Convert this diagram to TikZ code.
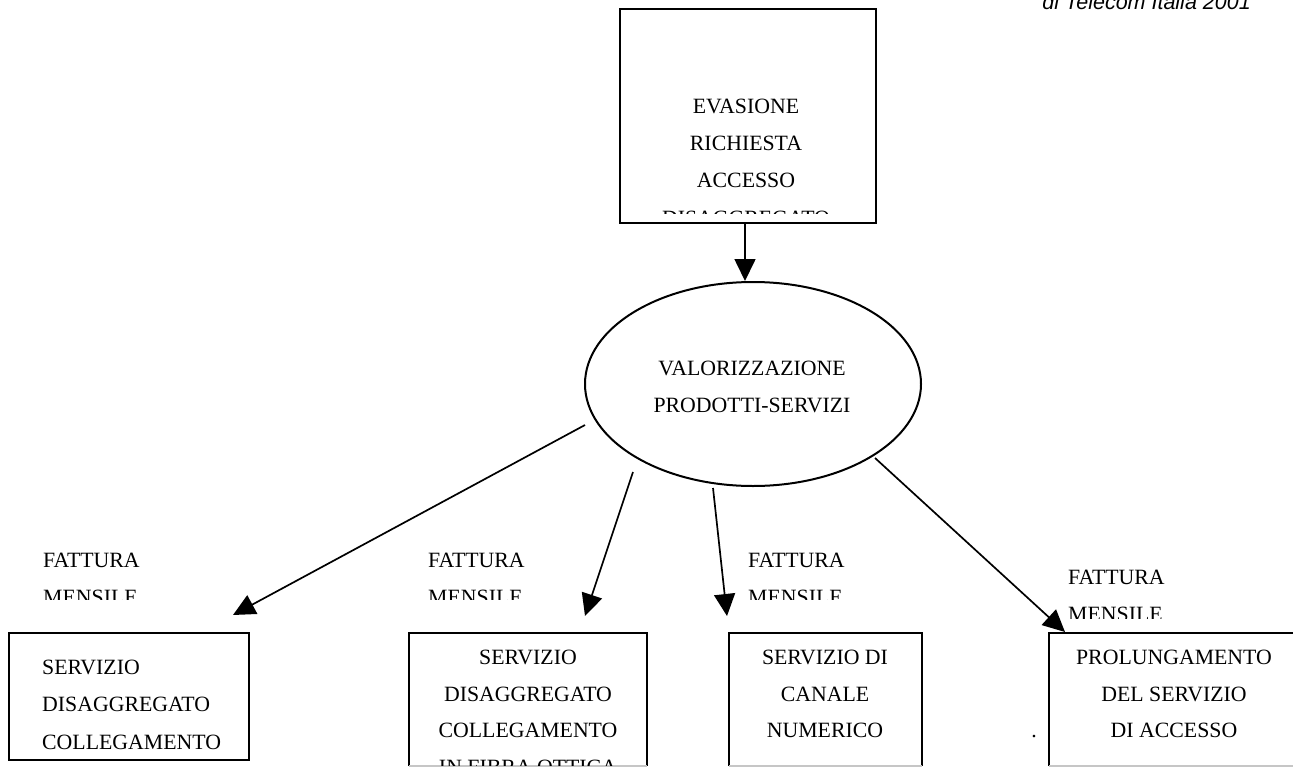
\documentclass[tikz,border=0pt]{standalone}
\usepackage{fontspec}
\setmainfont{Liberation Serif}
\newfontfamily\notefont{Liberation Sans}
\usetikzlibrary{arrows.meta,shapes.geometric}

\tikzset{
  boxline/.style={draw=black, line width=2pt},
  txt/.style={font=\fontsize{21.8}{22}\selectfont, inner sep=0pt, anchor=base},
  txtl/.style={txt, anchor=base west},
  flow/.style={line width=1.7pt, -{Triangle[length=22pt,width=21pt]}},
}

\begin{document}
\begin{tikzpicture}[x=1pt,y=-1pt]
\useasboundingbox (0,0) rectangle (1293,776);

% source note at the top edge
\node[txt, anchor=base east, font=\notefont\itshape\fontsize{21.5}{22}\selectfont] (note) at (1251,10) {di Telecom Italia 2001};

% request box
\node[boxline, rectangle, minimum width=256pt, minimum height=214pt, inner sep=0pt, outer sep=0pt] (evbox) at (748,116) {};
\node[txt] (ev1) at (746,113) {EVASIONE};
\node[txt] (ev2) at (746,150) {RICHIESTA};
\node[txt] (ev3) at (746,187) {ACCESSO};
\begin{scope}
  \clip (600,0) rectangle (900,213);
  \node[txt] (ev4) at (746,225) {DISAGGREGATO};
\end{scope}

% valuation ellipse
\node[boxline, ellipse, minimum width=336pt, minimum height=204pt, inner sep=0pt, outer sep=0pt] (valell) at (753,384) {};
\node[txt] (va1) at (752,375) {VALORIZZAZIONE};
\node[txt] (va2) at (752,412) {PRODOTTI-SERVIZI};

\draw[flow] (evbox.south -| 745,0) -- (745,281);

% service boxes
\node[boxline, rectangle, minimum width=240pt, minimum height=127pt, inner sep=0pt, outer sep=0pt] (s1) at (129,696.5) {};
\node[txtl] (s1a) at (42,674) {SERVIZIO};
\node[txtl] (s1b) at (42,711) {DISAGGREGATO};
\node[txtl] (s1c) at (42,749) {COLLEGAMENTO};

\coordinate (s2tl) at (409,633);
\coordinate (s2tr) at (647,633);
\coordinate (s2bl) at (409,766);
\coordinate (s2br) at (647,766);
\draw[boxline] (s2bl) -- (s2tl) -- (s2tr) -- (s2br);
\draw[gray!45, line width=1.2pt] (s2bl) -- (s2br);
\node[txt] (s2a) at (528,664) {SERVIZIO};
\node[txt] (s2b) at (528,701) {DISAGGREGATO};
\node[txt] (s2c) at (528,737) {COLLEGAMENTO};
\begin{scope}
  \clip (410,640) rectangle (646,765);
  \node[txt] (s2d) at (528,774) {IN FIBRA OTTICA};
\end{scope}

\coordinate (s3tl) at (729,633);
\coordinate (s3tr) at (922,633);
\coordinate (s3bl) at (729,766);
\coordinate (s3br) at (922,766);
\draw[boxline] (s3bl) -- (s3tl) -- (s3tr) -- (s3br);
\draw[gray!45, line width=1.2pt] (s3bl) -- (s3br);
\node[txt] (s3a) at (825,664) {SERVIZIO DI};
\node[txt] (s3b) at (825,701) {CANALE};
\node[txt] (s3c) at (825,737) {NUMERICO};

\coordinate (s4tl) at (1049,633);
\coordinate (s4tr) at (1300,633);
\coordinate (s4bl) at (1049,766);
\coordinate (s4br) at (1300,766);
\draw[boxline] (s4bl) -- (s4tl) -- (s4tr);
\draw[gray!45, line width=1.2pt] (s4bl) -- (s4br);
\node[txt] (s4a) at (1174,664) {PROLUNGAMENTO};
\node[txt] (s4b) at (1174,701) {DEL SERVIZIO};
\node[txt] (s4c) at (1174,737) {DI ACCESSO};
\node[txt] (dot) at (1034,737) {.};

% monthly invoice labels
\node[txtl] (f1a) at (43,567) {FATTURA};
\node[txtl] (f2a) at (428,567) {FATTURA};
\node[txtl] (f3a) at (748,567) {FATTURA};
\node[txtl] (f4a) at (1068,584) {FATTURA};
\begin{scope}
  \clip (0,580) rectangle (1000,599);
  \node[txtl] (f1b) at (43,604) {MENSILE};
  \node[txtl] (f2b) at (428,604) {MENSILE};
  \node[txtl] (f3b) at (748,604) {MENSILE};
\end{scope}
\begin{scope}
  \clip (1000,600) rectangle (1293,618);
  \node[txtl] (f4b) at (1068,621) {MENSILE};
\end{scope}

% arrows from the valuation to the services
\coordinate (o1) at (585,425);
\coordinate (o2) at (633,472);
\coordinate (o3) at (713,488);
\coordinate (o4) at (875,458);
\coordinate (t1) at (233,615);
\coordinate (t2) at (585,616);
\coordinate (t3) at (727,616);
\coordinate (t4) at (1065,632);
\draw[flow] (o1) -- (t1);
\draw[flow] (o2) -- (t2);
\draw[flow] (o3) -- (t3);
\draw[flow] (o4) -- (t4);
\end{tikzpicture}
\end{document}
